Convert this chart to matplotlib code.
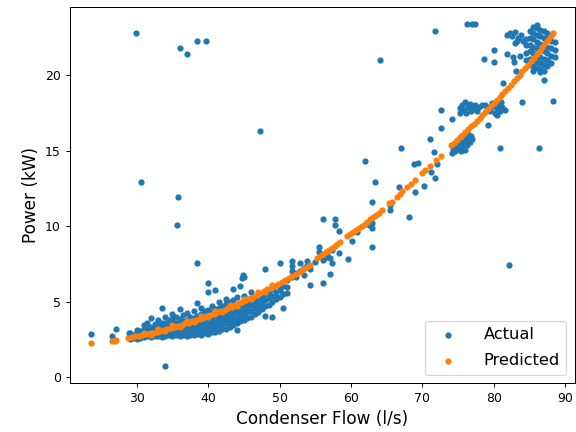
import matplotlib.pyplot as plt

# actual power, dense part (condenser flow, list of readings)
actual_band = [
    (29.0, [2.55, 2.75, 2.9]),
    (29.5, [2.6, 2.8]),
    (30.0, [2.55, 2.7, 2.95, 3.1]),
    (30.5, [2.6, 2.85, 3.05]),
    (31.0, [2.65, 2.9, 3.15, 3.45]),
    (31.5, [2.7, 2.95, 3.2, 3.55]),
    (32.0, [2.65, 2.85, 3.05, 3.3, 3.9]),
    (32.5, [2.7, 2.95, 3.2, 3.5]),
    (33.0, [2.7, 2.9, 3.15, 3.4, 3.75]),
    (33.5, [2.65, 2.85, 3.25, 3.55, 4.6]),
    (34.0, [2.7, 2.95, 3.3, 3.6, 3.95]),
    (34.5, [2.75, 3.0, 3.2, 3.45, 3.8]),
    (35.0, [2.7, 2.9, 3.15, 3.55, 3.85, 4.2]),
    (35.5, [2.75, 3.0, 3.25, 3.6, 4.0]),
    (36.0, [2.7, 2.95, 3.2, 3.55, 3.85, 4.5]),
    (36.5, [2.75, 3.05, 3.3, 3.7, 4.1]),
    (37.0, [2.7, 2.95, 3.2, 3.45, 3.8, 4.25]),
    (37.5, [2.8, 3.05, 3.35, 3.65, 4.0]),
    (38.0, [2.75, 3.0, 3.25, 3.5, 3.9, 4.35]),
    (38.5, [2.85, 3.1, 3.4, 3.7, 4.05, 4.9]),
    (39.0, [2.8, 3.05, 3.3, 3.6, 4.2, 4.6]),
    (39.5, [2.9, 3.15, 3.45, 3.75, 4.35]),
    (40.0, [2.85, 3.1, 3.4, 3.7, 4.0, 4.45, 5.6, 6.25]),
    (40.5, [2.95, 3.25, 3.55, 3.85, 4.3, 4.7]),
    (41.0, [3.0, 3.3, 3.6, 3.9, 4.5, 5.75]),
    (41.5, [3.05, 3.35, 3.7, 4.0, 4.6, 4.95]),
    (42.0, [3.15, 3.45, 3.8, 4.1, 4.7]),
    (42.5, [3.2, 3.55, 3.9, 4.25, 4.85, 5.2]),
    (43.0, [3.3, 3.65, 4.0, 4.35, 4.95]),
    (43.5, [3.45, 3.8, 4.15, 4.5, 5.1, 5.8]),
    (44.0, [3.1, 3.55, 3.9, 4.3, 4.65, 5.3]),
    (44.5, [3.7, 4.05, 4.4, 4.75, 6.0]),
    (45.0, [3.8, 4.15, 4.5, 4.85, 5.4, 6.6]),
    (45.5, [3.9, 4.3, 4.65, 5.0]),
    (46.0, [4.0, 4.4, 4.75, 5.1, 5.6]),
    (46.5, [4.2, 4.55, 4.9, 5.25]),
    (47.0, [4.3, 4.7, 5.05, 5.45]),
    (47.5, [4.5, 4.9, 5.25]),
    (48.0, [4.05, 4.7, 5.1, 5.5, 7.15]),
    (48.5, [4.8, 5.25, 5.65]),
    (49.0, [3.95, 5.0, 5.4, 5.85]),
    (49.5, [5.15, 5.3, 5.6]),
    (50.0, [5.3, 5.75, 6.0, 7.55]),
    (50.5, [4.6, 5.5, 6.0]),
    (51.0, [5.55, 5.95, 6.4]),
    (51.8, [6.6, 7.0, 7.35, 7.7]),
    (52.3, [6.6, 6.9]),
    (52.9, [7.0, 7.55]),
    (53.4, [6.75, 7.2]),
    (53.9, [7.4, 7.7]),
    (54.2, [6.1, 7.15]),
    (55.0, [7.6]),
    (55.5, [8.3, 8.6]),
    (56.1, [6.2, 7.75, 10.5]),
    (56.7, [7.95, 8.1]),
    (57.1, [6.8, 7.9]),
    (57.4, [7.55, 8.4]),
    (57.8, [10.05, 10.5]),
    (58.3, [8.2, 9.7]),
    (59.6, [7.8]),
    (60.2, [9.0]),
    (60.9, [9.6]),
    (62.5, [10.05]),
    (62.9, [8.6, 9.9]),
    (63.0, [10.2, 11.6]),
    (65.5, [11.05, 11.4]),
]

# clusters at high flow
cluster_x = [74.1, 74.3, 74.6, 75.0, 75.4, 75.8, 76.2, 76.6, 76.9, 76.8, 76.4, 75.9,
             75.5, 75.0, 74.6, 76.2, 75.4, 76.0,
             75.2, 75.3, 75.6, 75.8, 76.0, 76.1, 76.4, 76.7, 76.8, 77.1, 77.4, 77.6,
             77.9, 78.3, 78.7, 79.1, 79.5, 79.8, 80.1, 80.4, 80.7, 80.9, 81.2, 81.5,
             80.3, 79.8, 81.0, 80.5]
cluster_y = [14.85, 15.1, 15.0, 15.1, 15.2, 15.3, 15.4, 15.6, 15.8, 16.0, 16.1, 15.9,
             15.6, 15.5, 15.4, 15.7, 14.95, 15.05,
             17.8, 17.5, 18.0, 17.7, 18.2, 17.5, 17.9, 18.1, 17.6, 17.8, 18.0, 17.6,
             17.9, 18.0, 18.05, 17.9, 17.6, 17.9, 17.5, 17.8, 18.1, 17.6, 17.9, 17.7,
             17.4, 18.15, 18.2, 17.35]

top_cols = [
    (84.5, [21.0, 21.5, 22.0, 22.4]),
    (85.0, [20.7, 21.1, 21.6, 22.0, 22.5, 22.9]),
    (85.5, [20.3, 20.6, 21.0, 21.5, 21.9, 22.4, 22.8, 23.2]),
    (86.0, [20.5, 20.9, 21.3, 21.8, 22.2, 22.7, 23.1, 23.3]),
    (86.5, [20.2, 20.4, 20.8, 21.2, 21.7, 22.1, 22.6, 23.0]),
    (87.0, [19.7, 20.3, 20.7, 21.1, 21.6, 22.0, 22.5, 22.9]),
    (87.5, [20.6, 21.0, 21.5, 21.9, 22.4, 22.8]),
    (88.0, [20.8, 21.3, 21.8, 22.3]),
    (88.5, [21.2, 21.7, 22.2]),
]
arm_x = [81.8, 82.2, 82.6, 83.0, 83.4, 83.8, 83.2, 82.9, 84.1]
arm_y = [22.7, 22.8, 22.6, 22.85, 22.5, 22.7, 22.3, 22.15, 22.3]

# scattered readings
outlier_x = [23.6, 26.6, 27.1, 28.9, 33.9, 29.95, 36.1, 37.1, 38.5, 39.7, 47.2,
             30.65, 35.8, 35.66, 38.4, 44.8, 44.9,
             61.9, 63.4, 64.1, 66.7, 67.0, 68.1, 69.0, 69.4, 68.8, 70.2, 71.2,
             71.7, 72.1, 71.6, 71.0, 72.6, 72.6, 74.1, 71.7, 76.2, 77.0, 77.3,
             78.6, 80.0, 80.0, 81.8, 82.7, 82.8, 83.6, 83.1, 81.3, 83.9, 88.3,
             79.2, 80.8, 86.3, 82.1]
outlier_y = [2.85, 2.7, 3.2, 2.9, 0.73, 22.8, 21.8, 21.4, 22.25, 22.25, 16.3,
             12.93, 11.94, 10.05, 7.55, 6.55, 6.75,
             14.3, 12.9, 21.0, 12.6, 15.2, 10.6, 12.25, 14.2, 14.1, 12.65, 13.6,
             13.2, 14.1, 14.9, 15.8, 16.5, 17.7, 17.1, 22.9, 23.4, 23.4, 23.4,
             21.1, 21.7, 20.9, 21.4, 21.2, 20.9, 21.25, 20.3, 19.5, 18.2, 18.3,
             16.7, 15.2, 15.2, 7.4]

# predicted power
pred_x_low = [23.6, 26.6, 26.9, 27.1]
pred_y_low = [2.22, 2.40, 2.41, 2.42]

pred_x_band = [28.8, 29.3, 29.8, 30.3, 30.8, 31.3, 31.8, 32.3, 32.8, 33.3, 33.8, 34.3,
               34.8, 35.3, 35.8, 36.3, 36.8, 37.3, 37.8, 38.3, 38.8, 39.3, 39.8, 40.3,
               40.8, 41.3, 41.8, 42.3, 42.8, 43.3, 43.8, 44.3, 44.8, 45.3, 45.8, 46.3,
               46.8, 47.3, 47.8, 48.3, 48.8, 49.3, 49.8, 50.3, 50.8, 51.3, 51.8, 52.3,
               52.8, 53.3, 53.8, 54.3,
               31.0, 33.0, 35.0, 37.0, 39.0, 41.0, 43.0, 45.0, 47.0, 49.0,
               32.0, 34.0, 36.0, 38.0, 40.0, 42.0, 44.0, 46.0, 48.0]
pred_y_band = [2.60, 2.63, 2.70, 2.72, 2.80, 2.82, 2.90, 2.92, 3.00, 3.05, 3.12, 3.16,
               3.25, 3.30, 3.40, 3.45, 3.55, 3.60, 3.70, 3.76, 3.85, 3.93, 4.02, 4.10,
               4.20, 4.28, 4.38, 4.47, 4.58, 4.67, 4.78, 4.88, 5.00, 5.10, 5.22, 5.33,
               5.45, 5.56, 5.68, 5.80, 5.93, 6.05, 6.18, 6.30, 6.44, 6.57, 6.71, 6.85,
               6.99, 7.13, 7.27, 7.40,
               2.93, 3.17, 3.42, 3.70, 4.02, 4.36, 4.75, 5.18, 5.63, 6.12,
               2.80, 3.03, 3.30, 3.62, 3.96, 4.32, 4.72, 5.16, 5.62]

pred_x_mid = [55.3, 55.7, 56.1, 56.5, 56.9, 57.3, 57.7, 58.1, 58.5,
              59.5, 59.9, 60.3, 60.7, 61.1, 61.5, 61.9, 62.3, 62.7, 63.1, 63.5, 63.9, 64.3,
              65.3, 65.7, 66.4, 66.8, 67.2, 67.9, 68.4, 69.0, 70.0, 70.4, 71.1, 71.9, 72.6]
pred_y_mid = [7.90, 8.02, 8.15, 8.28, 8.42, 8.55, 8.68, 8.82, 8.95,
              9.32, 9.46, 9.60, 9.74, 9.88, 10.02, 10.16, 10.30, 10.45, 10.60, 10.74, 10.90, 11.05,
              11.50, 11.62, 11.95, 12.10, 12.30, 12.60, 12.80, 13.05, 13.50, 13.70, 14.00, 14.35, 14.65]

pred_x_high = [74.0, 74.4, 74.8, 75.2, 75.6, 76.0, 76.4, 76.8, 77.2, 77.6, 78.0, 78.4,
               78.8, 79.2, 79.6, 80.0, 80.4, 80.8, 81.2, 81.6, 82.0, 82.4, 82.8, 83.2,
               83.6, 84.0, 84.4, 84.8, 85.2, 85.6, 86.0, 86.4, 86.8, 87.2, 87.6, 88.0, 88.3]
pred_y_high = [15.35, 15.52, 15.70, 15.88, 16.06, 16.25, 16.44, 16.62, 16.80, 16.98, 17.17, 17.36,
               17.55, 17.74, 17.94, 18.14, 18.34, 18.54, 18.75, 18.96, 19.17, 19.38, 19.60, 19.82,
               20.04, 20.26, 20.48, 20.71, 20.94, 21.17, 21.40, 21.63, 21.87, 22.11, 22.35, 22.60, 22.80]

# gabung semua titik
act_x, act_y = [], []
for xv, ys in actual_band + top_cols:
    act_x += [xv] * len(ys)
    act_y += ys
act_x += cluster_x + arm_x + outlier_x
act_y += cluster_y + arm_y + outlier_y

pred_x = pred_x_low + pred_x_band + pred_x_mid + pred_x_high
pred_y = pred_y_low + pred_y_band + pred_y_mid + pred_y_high

fig, ax = plt.subplots(figsize=(6.4, 4.8), dpi=90)
fig.subplots_adjust(left=0.1207, right=0.9974, bottom=0.1134, top=0.983)
ax.scatter(act_x, act_y, s=25, color="C0", linewidths=0, label="Actual")
ax.scatter(pred_x, pred_y, s=25, color="C1", linewidths=0, label="Predicted")
ax.set_xlim(20.6, 91.3)
ax.set_ylim(-0.4, 24.5)
ax.set_xlabel("Condenser Flow (l/s)", fontsize=13.5)
ax.set_ylabel("Power (kW)", fontsize=13.5)
ax.legend(loc="lower right", fontsize=13, labelspacing=0.7, handletextpad=1.2)
fig.savefig("out.png")
